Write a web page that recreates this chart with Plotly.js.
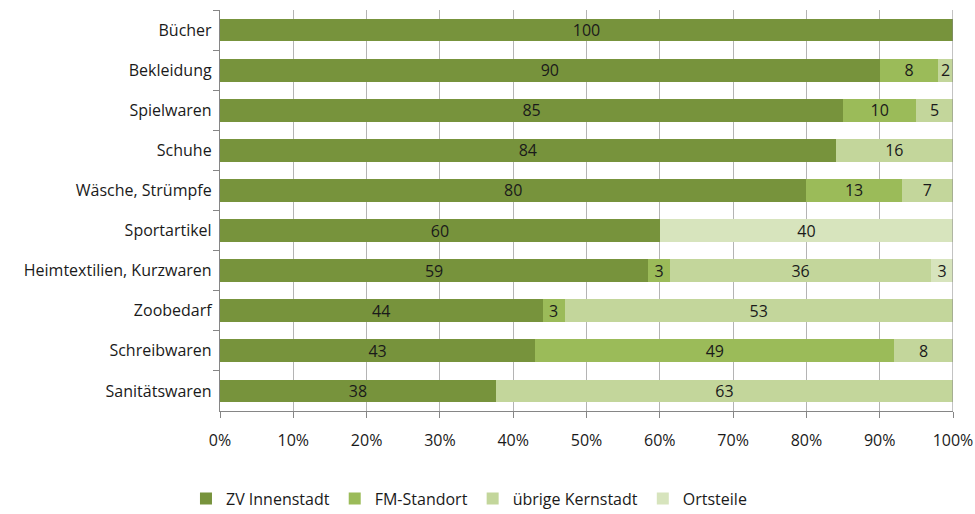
<!DOCTYPE html>
<html>
<head>
<meta charset="utf-8">
<script src="https://cdn.plot.ly/plotly-3.0.1.min.js"></script>
<style>html,body{margin:0;padding:0;background:#fff;}#chart{width:975px;height:514px;}</style>
</head>
<body>
<div id="chart"></div>
<script>
const categories = ["Bücher","Bekleidung","Spielwaren","Schuhe","Wäsche, Strümpfe","Sportartikel","Heimtextilien, Kurzwaren","Zoobedarf","Schreibwaren","Sanitätswaren"];
const zvInnenstadt   = [100, 90, 85, 84, 80, 60, 59, 44, 43, 38];
const fmStandort     = [0, 8, 10, 0, 13, 0, 3, 3, 49, 0];
const uebrigeKern    = [0, 2, 5, 16, 7, 0, 36, 53, 8, 63];
const ortsteile      = [0, 0, 0, 0, 0, 40, 3, 0, 0, 0];
const seriesNames = ["ZV Innenstadt","FM-Standort","übrige Kernstadt","Ortsteile"];
const seriesColors = ["#77933C","#9BBB59","#C3D69B","#D7E4BD"];
const tickVals = [0,10,20,30,40,50,60,70,80,90,100];
const tickText = ["0%","10%","20%","30%","40%","50%","60%","70%","80%","90%","100%"];

const font = "Open Sans, Noto Sans, sans-serif";
const allSeries = [zvInnenstadt, fmStandort, uebrigeKern, ortsteile];
const traces = allSeries.map((vals, i) => ({
  type: "bar",
  orientation: "h",
  name: seriesNames[i],
  y: categories,
  x: vals,
  text: vals.map(v => v ? String(v) : ""),
  texttemplate: "%{text}",
  textposition: "inside",
  insidetextanchor: "middle",
  textangle: 0,
  textfont: {family: font, size: 16, color: "#1a1a1a"},
  marker: {color: seriesColors[i], line: {width: 0}},
  hoverinfo: "none"
}));

const layout = {
  width: 975, height: 514,
  margin: {l: 220, r: 22, t: 10, b: 103, autoexpand: false},
  barmode: "stack",
  barnorm: "percent",
  bargap: 0.43,
  paper_bgcolor: "#fff",
  plot_bgcolor: "#fff",
  font: {family: font, size: 16, color: "#1a1a1a"},
  uniformtext: {mode: "show", minsize: 16},
  showlegend: true,
  legend: {
    orientation: "h",
    xref: "container", yref: "container",
    x: 0.481, xanchor: "center",
    y: 0.03, yanchor: "middle",
    font: {family: font, size: 16, color: "#1a1a1a"},
    itemwidth: 30,
    traceorder: "normal"
  },
  xaxis: {
    range: [0, 100],
    tickvals: tickVals,
    ticktext: tickText,
    showgrid: true,
    gridcolor: "#B4B4B4",
    gridwidth: 1,
    zeroline: false,
    showline: true,
    linecolor: "#868686",
    linewidth: 1,
    ticks: "outside",
    ticklen: 6,
    tickcolor: "#868686",
    ticklabelstandoff: 9,
    tickfont: {family: font, size: 16, color: "#1a1a1a"},
    fixedrange: true
  },
  yaxis: {
    autorange: "reversed",
    type: "category",
    showline: true,
    linecolor: "#868686",
    linewidth: 1,
    ticks: "outside",
    tickson: "boundaries",
    ticklen: 6,
    tickcolor: "#868686",
    showgrid: false,
    ticksuffix: " ",
    tickfont: {family: font, size: 16, color: "#1a1a1a"},
    fixedrange: true
  },
  shapes: [{
    type: "line", xref: "x", yref: "paper",
    x0: 100, x1: 100, y0: 0, y1: 1,
    line: {color: "#868686", width: 1}
  }]
};

Plotly.newPlot("chart", traces, layout, {displayModeBar: false, staticPlot: true});
</script>
</body>
</html>
